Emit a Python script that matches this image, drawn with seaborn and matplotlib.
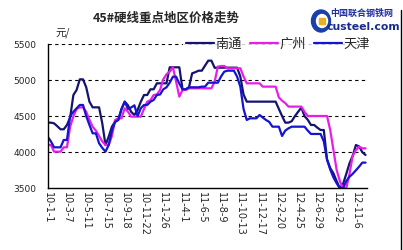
import numpy as np
import pandas as pd
import matplotlib
matplotlib.use("Agg")
import matplotlib.pyplot as plt
import seaborn as sns
from matplotlib.lines import Line2D
from matplotlib.patches import Ellipse, Rectangle

# ---- data ----
tick_labels = ["10-1-1", "10-3-7", "10-5-11", "10-7-15", "10-9-18", "10-11-22",
               "11-1-26", "11-4-1", "11-6-5", "11-8-9", "11-10-13", "11-12-17",
               "12-2-20", "12-4-25", "12-6-29", "12-9-2", "12-11-6"]
series_names = ["南通", "广州", "天津"]

nantong = [4410, 4410, 4400, 4360, 4318, 4318, 4378, 4484, 4793, 4863,
           5010, 5010, 4900, 4700, 4622, 4622, 4622, 4400, 4100, 4216,
           4354, 4424, 4450, 4600, 4701, 4650, 4560, 4516, 4585, 4700,
           4793, 4793, 4872, 4872, 4955, 4955, 4955, 4955, 5177, 5177,
           5177, 5177, 4872, 4872, 4900, 5094, 5110, 5130, 5130, 5200,
           5269, 5269, 5170, 5172, 5172, 5172, 5172, 5172, 5172, 5172,
           5050, 4800, 4701, 4701, 4701, 4701, 4701, 4701, 4701, 4701,
           4701, 4701, 4600, 4502, 4410, 4410, 4430, 4500, 4560, 4618,
           4500, 4450, 4378, 4378, 4340, 4308, 4308, 3900, 3780, 3708,
           3600, 3500, 3560, 3700, 3846, 3950, 4100, 4080, 4000, 3962]

guangzhou = [4100, 4100, 4008, 4008, 4008, 4068, 4068, 4354, 4500, 4600,
             4622, 4622, 4560, 4450, 4354, 4300, 4225, 4150, 4100, 4100,
             4225, 4447, 4470, 4470, 4609, 4562, 4493, 4493, 4493, 4493,
             4600, 4701, 4720, 4793, 4800, 4863, 5010, 5080, 5117, 5177,
             4978, 4770, 4863, 4863, 4886, 4886, 4886, 4886, 4886, 4886,
             4886, 4886, 4978, 5186, 5195, 5195, 5163, 5163, 5163, 5163,
             5163, 5050, 4955, 4955, 4955, 4955, 4955, 4909, 4909, 4909,
             4909, 4909, 4760, 4715, 4680, 4632, 4632, 4632, 4632, 4632,
             4560, 4502, 4502, 4502, 4502, 4502, 4502, 4502, 4308, 4031,
             3754, 3600, 3500, 3500, 3700, 3950, 4030, 4077, 4054, 4054]

tianjin = [4216, 4150, 4068, 4068, 4068, 4170, 4170, 4502, 4560, 4609,
           4655, 4655, 4500, 4378, 4262, 4262, 4124, 4060, 4008, 4100,
           4300, 4420, 4447, 4600, 4701, 4600, 4620, 4650, 4502, 4609,
           4655, 4655, 4700, 4724, 4793, 4800, 4872, 4900, 4964, 5047,
           5047, 4950, 4872, 4872, 4900, 4900, 4900, 4900, 4909, 4909,
           4964, 4964, 4964, 4964, 5050, 5117, 5130, 5130, 5130, 5047,
           4909, 4600, 4447, 4470, 4470, 4470, 4516, 4480, 4447, 4420,
           4354, 4354, 4354, 4225, 4300, 4331, 4354, 4354, 4354, 4354,
           4354, 4300, 4253, 4253, 4253, 4253, 4150, 3900, 3760, 3650,
           3570, 3500, 3500, 3600, 3660, 3700, 3750, 3800, 3856, 3856]

label_step = 6
colors = {"南通": "#141470", "广州": "#e81ee8", "天津": "#1414d2"}

n = len(nantong)
df = pd.DataFrame({
    "idx": np.tile(np.arange(n), 3),
    "price": nantong + guangzhou + tianjin,
    "city": np.repeat(series_names, n),
})

# ---- style ----
sns.set_style("white")
plt.rcParams["font.family"] = ["DejaVu Sans", "Noto Sans CJK SC"]
cjk = ["Noto Sans CJK SC", "DejaVu Sans"]

W, H = 403, 250
fig = plt.figure(figsize=(W / 100, H / 100), dpi=100)
ax = fig.add_axes([47.7 / W, 1 - 188.3 / H, (366.5 - 47.7) / W, (188.3 - 44) / H])

sns.lineplot(data=df, x="idx", y="price", hue="city", palette=colors,
             hue_order=series_names, linewidth=1.6, ax=ax, legend=False,
             estimator=None, sort=False)

ax.set_xlim(0, 99.3)
ax.set_ylim(3500, 5500)
ax.set_yticks([3500, 4000, 4500, 5000, 5500])
ax.set_yticklabels(["3500", "4000", "4500", "5000", "5500"], fontsize=6.5)
ax.set_xticks(np.arange(0, label_step * len(tick_labels), label_step))
ax.set_xticklabels(tick_labels, rotation=-90, fontsize=7, va="top", ha="center")
ax.set_xlabel("")
ax.set_ylabel("")

for yv in [4000, 4500, 5000, 5500]:
    ax.axhline(yv, color="black", lw=0.8, ls=(0, (3, 3)), zorder=0.5)

for s in ["top", "right"]:
    ax.spines[s].set_visible(False)
for s in ["left", "bottom"]:
    ax.spines[s].set_color("black")
    ax.spines[s].set_linewidth(1.0)
ax.tick_params(axis="x", direction="in", length=2.5, width=0.8, color="black", pad=3)
ax.tick_params(axis="y", length=0, pad=8)

# legend
handles = [Line2D([0], [0], color=colors[c], lw=1.6) for c in series_names]
leg = fig.legend(handles, series_names, loc="center",
                 bbox_to_anchor=(278 / W, 1 - 44 / H), ncol=3, frameon=True,
                 prop={"family": cjk, "size": 9.5}, handlelength=2.1,
                 handletextpad=0.15, columnspacing=0.6, borderpad=0.2,
                 fancybox=False)
leg.get_frame().set_facecolor("white")
leg.get_frame().set_edgecolor("white")

# title and unit
fig.text(166 / W, 1 - 18 / H, "45#硬线重点地区价格走势", family=cjk,
         fontsize=9, fontweight="bold", ha="center", va="center")
fig.text(55 / W, 1 - 33 / H, "元/", family=cjk, fontsize=7.5,
         ha="left", va="center")

# logo
fig.add_artist(Ellipse((321 / W, 1 - 21 / H), 19 / W, 22 / H,
                       transform=fig.transFigure, color="#1a3fa8"))
fig.add_artist(Ellipse((322 / W, 1 - 21 / H), 11 / W, 13 / H,
                       transform=fig.transFigure, color="white"))
fig.add_artist(Rectangle((319 / W, 1 - 24 / H), 6 / W, 6 / H,
                         transform=fig.transFigure, color="#e8b020"))
fig.text(362 / W, 1 - 13 / H, "中国联合钢铁网", family=cjk, fontsize=6.5,
         fontweight="bold", color="#2030a0", ha="center", va="center")
fig.text(363 / W, 1 - 27 / H, "custeel.com", fontsize=7.8,
         fontweight="bold", color="#1a2a90", ha="center", va="center")

# right border line
fig.add_artist(Line2D([401 / W, 401 / W], [0, 1 - 10 / H], color="black",
                      lw=1.0, transform=fig.transFigure))

fig.savefig("out.png", dpi=100)
